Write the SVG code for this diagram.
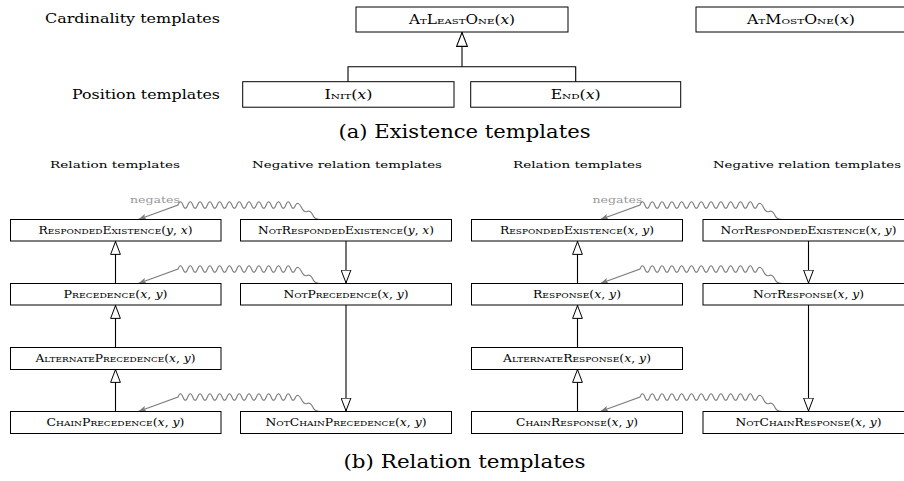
<svg xmlns="http://www.w3.org/2000/svg" width="904" height="481" viewBox="0 0 904 481" font-family="'DejaVu Serif','Liberation Serif','Times New Roman',serif">
<style>
text{font-family:'DejaVu Serif','Liberation Serif','Times New Roman',serif;fill:#000}
.box{fill:#fff;stroke:#000;stroke-width:1}
.lbl{font-size:12.5px}
.hdr{font-size:9.5px}
.cap{font-size:19px}
.t{font-size:12px;text-anchor:middle}
.b{font-size:11px;text-anchor:middle}
.sc{font-variant:small-caps}
.m{font-style:italic;font-variant:normal}
.neg{font-size:9.5px;fill:#999}
.inh{fill:none;stroke:#000;stroke-width:1.1}
.wave{fill:none;stroke:#7d7d7d;stroke-width:1.1}
</style>
<defs>
<marker id="tri" viewBox="0 0 14 11" refX="14" refY="5.5" markerWidth="14" markerHeight="11" markerUnits="userSpaceOnUse" orient="auto">
<path d="M0.6,0.6 L13.4,5.5 L0.6,10.4 Z" fill="#fff" stroke="#000" stroke-width="1"/>
</marker>
<marker id="trib" viewBox="0 0 15 12" refX="15" refY="6" markerWidth="15" markerHeight="12" markerUnits="userSpaceOnUse" orient="auto">
<path d="M0.6,0.6 L14.4,6 L0.6,11.4 Z" fill="#fff" stroke="#000" stroke-width="1.1"/>
</marker>
<marker id="ga" viewBox="0 0 8 6" refX="8" refY="3" markerWidth="8" markerHeight="6" markerUnits="userSpaceOnUse" orient="auto-start-reverse">
<path d="M0,0 L8,3 L0,6 L1.5,3 Z" fill="#7d7d7d"/>
</marker>
<path id="negp" d="M138.3,0 L178,-14.5 q2.45,-6.6 4.9,0 t4.9,0 t4.9,0 t4.9,0 t4.9,0 t4.9,0 t4.9,0 t4.9,0 t4.9,0 t4.9,0 t4.9,0 t4.9,0 t4.9,0 t4.9,0 t4.9,0 t4.9,0 t4.9,0 t4.9,0 t4.9,0 t4.9,0 t4.9,0 t4.9,0 t4.9,0 t4.9,0 C297.6,-17.5 299.6,-16 301.5,-12 C303,-9 305,-7 307,-8 C309,-9 311,-8 312.5,-5 C313.5,-2 316,0 320,0" class="wave" marker-start="url(#ga)"/>
</defs>

<!-- section labels -->
<text class="lbl" x="45" y="22.5" textLength="175" lengthAdjust="spacingAndGlyphs">Cardinality templates</text>
<text class="lbl" x="72" y="99" textLength="148" lengthAdjust="spacingAndGlyphs">Position templates</text>
<text class="cap" x="338.5" y="138" textLength="252" lengthAdjust="spacingAndGlyphs">(a) Existence templates</text>

<text class="hdr" x="50" y="168.3" textLength="130" lengthAdjust="spacingAndGlyphs">Relation templates</text>
<text class="hdr" x="252" y="168.3" textLength="190" lengthAdjust="spacingAndGlyphs">Negative relation templates</text>
<text class="hdr" x="513" y="168.3" textLength="129" lengthAdjust="spacingAndGlyphs">Relation templates</text>
<text class="hdr" x="713" y="168.3" textLength="188" lengthAdjust="spacingAndGlyphs">Negative relation templates</text>
<text class="neg" x="130" y="202.5" textLength="50" lengthAdjust="spacingAndGlyphs">negates</text>
<text class="neg" x="592.5" y="202.5" textLength="50" lengthAdjust="spacingAndGlyphs">negates</text>
<text class="cap" x="343.5" y="468" textLength="242" lengthAdjust="spacingAndGlyphs">(b) Relation templates</text>

<!-- connectors -->
<g id="connectors">
<path class="inh" d="M348,81.7 V66.7 H575.7 V81.7"/>
<path class="inh" d="M462,66.7 V32" marker-end="url(#trib)"/>

<path class="inh" d="M115.5,283.5 V241" marker-end="url(#tri)"/>
<path class="inh" d="M115.5,347.5 V305" marker-end="url(#tri)"/>
<path class="inh" d="M115.5,411.5 V369" marker-end="url(#tri)"/>
<path class="inh" d="M346,241 V283.5" marker-end="url(#tri)"/>
<path class="inh" d="M346,305 V411.5" marker-end="url(#tri)"/>

<path class="inh" d="M577.5,283.5 V241" marker-end="url(#tri)"/>
<path class="inh" d="M577.5,347.5 V305" marker-end="url(#tri)"/>
<path class="inh" d="M577.5,411.5 V369" marker-end="url(#tri)"/>
<path class="inh" d="M808.5,241 V283.5" marker-end="url(#tri)"/>
<path class="inh" d="M808.5,305 V411.5" marker-end="url(#tri)"/>

<use href="#negp" transform="translate(0,219.5)"/>
<use href="#negp" transform="translate(0,283.5)"/>
<use href="#negp" transform="translate(0,411.5)"/>
<use href="#negp" transform="translate(462,219.5)"/>
<use href="#negp" transform="translate(462,283.5)"/>
<use href="#negp" transform="translate(462,411.5)"/>
</g>

<!-- existence nodes -->
<g id="atleastone"><rect class="box" x="356" y="7" width="212" height="25"/>
<text class="t" x="462" y="23.5" textLength="106" lengthAdjust="spacingAndGlyphs"><tspan class="sc">AtLeastOne</tspan>(<tspan class="m">x</tspan>)</text></g>
<g id="atmostone"><rect class="box" x="696" y="7" width="214" height="25"/>
<text class="t" x="801" y="23.5" textLength="108" lengthAdjust="spacingAndGlyphs"><tspan class="sc">AtMostOne</tspan>(<tspan class="m">x</tspan>)</text></g>
<g id="init"><rect class="box" x="242.7" y="81.7" width="211.3" height="25.5"/>
<text class="t" x="348.5" y="99" textLength="48" lengthAdjust="spacingAndGlyphs"><tspan class="sc">Init</tspan>(<tspan class="m">x</tspan>)</text></g>
<g id="end"><rect class="box" x="470.7" y="81.7" width="210" height="25.5"/>
<text class="t" x="575.7" y="99" textLength="50" lengthAdjust="spacingAndGlyphs"><tspan class="sc">End</tspan>(<tspan class="m">x</tspan>)</text></g>

<!-- relation nodes, left block -->
<g id="respex1"><rect class="box" x="10.5" y="219.5" width="210.5" height="21.5"/>
<text class="b" x="115.5" y="233.8" textLength="154" lengthAdjust="spacingAndGlyphs"><tspan class="sc">RespondedExistence</tspan>(<tspan class="m">y</tspan>, <tspan class="m">x</tspan>)</text></g>
<g id="notrespex1"><rect class="box" x="240.5" y="219.5" width="211" height="21.5"/>
<text class="b" x="346" y="233.8" textLength="176" lengthAdjust="spacingAndGlyphs"><tspan class="sc">NotRespondedExistence</tspan>(<tspan class="m">y</tspan>, <tspan class="m">x</tspan>)</text></g>
<g id="precedence"><rect class="box" x="10.5" y="283.5" width="210.5" height="21.5"/>
<text class="b" x="115.5" y="297.8" textLength="104" lengthAdjust="spacingAndGlyphs"><tspan class="sc">Precedence</tspan>(<tspan class="m">x</tspan>, <tspan class="m">y</tspan>)</text></g>
<g id="notprecedence"><rect class="box" x="240.5" y="283.5" width="211" height="21.5"/>
<text class="b" x="346" y="297.8" textLength="125" lengthAdjust="spacingAndGlyphs"><tspan class="sc">NotPrecedence</tspan>(<tspan class="m">x</tspan>, <tspan class="m">y</tspan>)</text></g>
<g id="altprecedence"><rect class="box" x="10.5" y="347.5" width="210.5" height="22"/>
<text class="b" x="115.5" y="362" textLength="160" lengthAdjust="spacingAndGlyphs"><tspan class="sc">AlternatePrecedence</tspan>(<tspan class="m">x</tspan>, <tspan class="m">y</tspan>)</text></g>
<g id="chainprecedence"><rect class="box" x="10.5" y="411.5" width="210.5" height="22"/>
<text class="b" x="115.5" y="426" textLength="138" lengthAdjust="spacingAndGlyphs"><tspan class="sc">ChainPrecedence</tspan>(<tspan class="m">x</tspan>, <tspan class="m">y</tspan>)</text></g>
<g id="notchainprecedence"><rect class="box" x="240.5" y="411.5" width="211" height="22"/>
<text class="b" x="346" y="426" textLength="161" lengthAdjust="spacingAndGlyphs"><tspan class="sc">NotChainPrecedence</tspan>(<tspan class="m">x</tspan>, <tspan class="m">y</tspan>)</text></g>

<!-- relation nodes, right block -->
<g id="respex2"><rect class="box" x="471.5" y="219.5" width="211" height="21.5"/>
<text class="b" x="577" y="233.8" textLength="154" lengthAdjust="spacingAndGlyphs"><tspan class="sc">RespondedExistence</tspan>(<tspan class="m">x</tspan>, <tspan class="m">y</tspan>)</text></g>
<g id="notrespex2"><rect class="box" x="703" y="219.5" width="212" height="21.5"/>
<text class="b" x="808.5" y="233.8" textLength="176" lengthAdjust="spacingAndGlyphs"><tspan class="sc">NotRespondedExistence</tspan>(<tspan class="m">x</tspan>, <tspan class="m">y</tspan>)</text></g>
<g id="response"><rect class="box" x="471.5" y="283.5" width="211" height="21.5"/>
<text class="b" x="577" y="297.8" textLength="88" lengthAdjust="spacingAndGlyphs"><tspan class="sc">Response</tspan>(<tspan class="m">x</tspan>, <tspan class="m">y</tspan>)</text></g>
<g id="notresponse"><rect class="box" x="703" y="283.5" width="212" height="21.5"/>
<text class="b" x="808.5" y="297.8" textLength="111" lengthAdjust="spacingAndGlyphs"><tspan class="sc">NotResponse</tspan>(<tspan class="m">x</tspan>, <tspan class="m">y</tspan>)</text></g>
<g id="altresponse"><rect class="box" x="471.5" y="347.5" width="211" height="22"/>
<text class="b" x="577" y="362" textLength="148" lengthAdjust="spacingAndGlyphs"><tspan class="sc">AlternateResponse</tspan>(<tspan class="m">x</tspan>, <tspan class="m">y</tspan>)</text></g>
<g id="chainresponse"><rect class="box" x="471.5" y="411.5" width="211" height="22"/>
<text class="b" x="577" y="426" textLength="122" lengthAdjust="spacingAndGlyphs"><tspan class="sc">ChainResponse</tspan>(<tspan class="m">x</tspan>, <tspan class="m">y</tspan>)</text></g>
<g id="notchainresponse"><rect class="box" x="703" y="411.5" width="212" height="22"/>
<text class="b" x="808.5" y="426" textLength="146" lengthAdjust="spacingAndGlyphs"><tspan class="sc">NotChainResponse</tspan>(<tspan class="m">x</tspan>, <tspan class="m">y</tspan>)</text></g>
</svg>
